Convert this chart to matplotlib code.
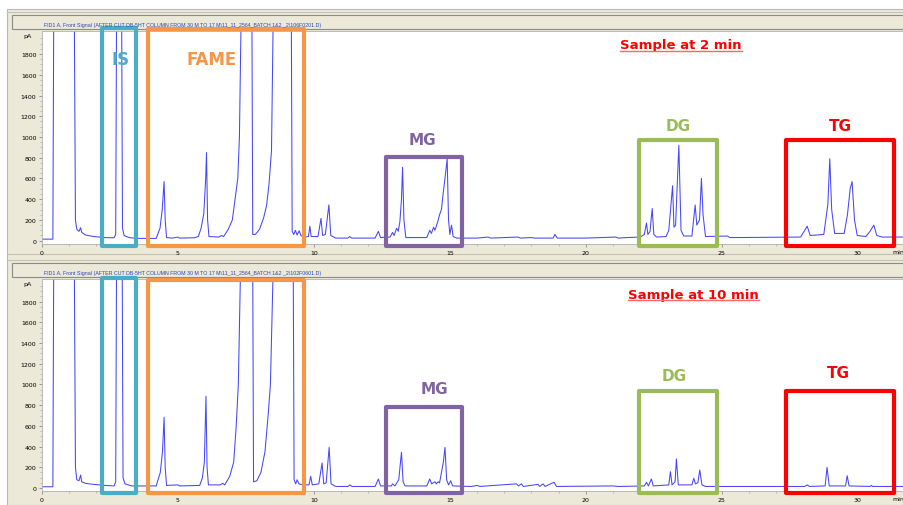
import matplotlib
matplotlib.use("Agg")
import matplotlib.pyplot as plt
from matplotlib.patches import Rectangle
from matplotlib.lines import Line2D

top_time = [0.00, 0.40, 0.43, 1.19, 1.23, 1.28, 1.36, 1.42, 1.46, 1.60, 1.90, 2.30, 2.65, 2.71, 2.74,
            2.93, 2.96, 3.02, 3.20, 3.50, 4.20, 4.34, 4.42, 4.49, 4.53, 4.58, 4.80, 5.00, 5.05, 5.60,
            5.75, 5.85, 5.95, 6.02, 6.05, 6.09, 6.14, 6.50, 6.60, 6.68, 6.85, 7.00, 7.10, 7.20, 7.26,
            7.32, 7.72, 7.75, 7.85, 8.00, 8.15, 8.26, 8.35, 8.44, 8.50, 9.17, 9.20, 9.26, 9.32, 9.38,
            9.46, 9.52, 9.65, 9.80, 9.85, 9.90, 10.15, 10.26, 10.32, 10.42, 10.55, 10.62, 10.80, 11.25, 11.32,
            11.38, 12.25, 12.37, 12.45, 12.80, 12.89, 12.95, 13.04, 13.10, 13.16, 13.22, 13.26, 13.31, 13.38, 14.15,
            14.26, 14.32, 14.40, 14.45, 14.55, 14.62, 14.69, 14.75, 14.82, 14.90, 14.95, 15.00, 15.06, 15.12, 15.25,
            16.00, 16.40, 16.50, 17.50, 17.60, 18.00, 18.10, 18.80, 18.86, 18.95, 20.00, 21.10, 21.20, 21.50, 22.00,
            22.15, 22.23, 22.28, 22.36, 22.44, 22.50, 22.60, 22.95, 23.05, 23.19, 23.24, 23.30, 23.42, 23.50, 23.60,
            23.90, 24.02, 24.08, 24.18, 24.25, 24.31, 24.40, 25.20, 25.30, 25.50, 27.90, 28.14, 28.25, 28.75, 28.90,
            28.97, 29.04, 29.15, 29.50, 29.62, 29.72, 29.79, 29.88, 29.98, 30.30, 30.45, 30.59, 30.70, 30.90, 31.70]
top_signal = [15, 15, 2100, 2100, 200, 110, 90, 125, 80, 55, 40, 30, 28, 60, 2100,
              2100, 120, 50, 30, 22, 22, 120, 300, 570, 200, 30, 25, 35, 25, 28,
              40, 120, 260, 600, 850, 200, 40, 35, 50, 40, 110, 200, 400, 600, 1000,
              2100, 2100, 60, 60, 110, 220, 340, 550, 870, 2100, 2100, 90, 60, 100, 55,
              95, 50, 35, 40, 140, 40, 40, 215, 50, 60, 345, 50, 25, 25, 40,
              25, 25, 90, 30, 35, 80, 50, 120, 90, 180, 400, 708, 200, 30, 30,
              100, 70, 130, 100, 180, 250, 300, 450, 600, 790, 200, 60, 150, 40, 25,
              25, 35, 25, 35, 25, 30, 25, 25, 60, 25, 25, 35, 25, 30, 35,
              60, 170, 60, 90, 310, 60, 35, 40, 100, 530, 130, 150, 920, 100, 45,
              45, 345, 150, 200, 600, 250, 40, 45, 30, 30, 35, 140, 50, 60, 350,
              790, 300, 70, 70, 250, 500, 570, 200, 50, 40, 90, 150, 50, 35, 35]

bottom_time = [0.00, 0.40, 0.43, 1.19, 1.23, 1.28, 1.36, 1.42, 1.46, 1.60, 1.90, 2.30, 2.65, 2.71, 2.74,
               2.95, 2.98, 3.05, 3.30, 4.20, 4.35, 4.43, 4.49, 4.53, 4.58, 5.00, 5.05, 5.80, 5.90, 5.97,
               6.03, 6.07, 6.12, 6.55, 6.65, 6.72, 6.90, 7.05, 7.14, 7.22, 7.30, 7.75, 7.78, 7.90, 8.05,
               8.20, 8.32, 8.40, 8.50, 9.24, 9.27, 9.33, 9.38, 9.45, 9.60, 9.82, 9.88, 9.94, 10.18, 10.30,
               10.36, 10.45, 10.56, 10.63, 10.80, 11.25, 11.32, 11.40, 12.25, 12.37, 12.45, 12.85, 12.89, 12.98, 13.12,
               13.22, 13.28, 13.35, 14.15, 14.26, 14.33, 14.45, 14.50, 14.57, 14.62, 14.69, 14.76, 14.82, 14.88, 14.95,
               15.03, 15.10, 15.80, 16.00, 16.10, 17.45, 17.52, 17.63, 17.70, 18.24, 18.30, 18.43, 18.50, 18.83, 18.92,
               21.00, 21.20, 22.15, 22.23, 22.30, 22.41, 22.48, 23.05, 23.11, 23.17, 23.28, 23.33, 23.40, 23.90, 23.97,
               24.03, 24.12, 24.19, 24.27, 24.40, 28.05, 28.14, 28.22, 28.80, 28.87, 28.95, 29.55, 29.61, 29.68, 30.45,
               30.50, 30.55, 31.70]
bottom_signal = [12, 12, 2100, 2100, 200, 80, 70, 125, 60, 45, 35, 25, 20, 60, 2100,
                 2100, 100, 40, 20, 20, 150, 350, 683, 200, 25, 30, 20, 25, 100, 250,
                 886, 200, 30, 30, 45, 30, 110, 250, 590, 1000, 2100, 2100, 60, 70, 150,
                 350, 715, 1000, 2100, 2100, 80, 40, 80, 40, 30, 30, 113, 30, 40, 242,
                 40, 50, 393, 40, 15, 15, 30, 15, 15, 87, 20, 20, 40, 20, 80,
                 345, 60, 20, 20, 87, 40, 60, 40, 60, 50, 150, 250, 393, 80, 30,
                 70, 20, 15, 25, 15, 40, 20, 40, 15, 35, 15, 40, 15, 55, 15,
                 20, 15, 20, 55, 20, 87, 20, 30, 158, 30, 60, 280, 30, 30, 94,
                 40, 50, 174, 30, 15, 15, 30, 15, 20, 200, 20, 20, 119, 20, 15,
                 25, 15, 15]

# --- highlighted regions (min) and their box heights (pA) ---
region_names = ["IS", "FAME", "MG", "DG", "TG"]
region_colors = ["#4BACC6", "#F79646", "#8064A2", "#9BBB59", "#FF0000"]
region_start = [2.20, 3.90, 12.64, 21.95, 27.35]
region_end = [3.46, 9.63, 15.43, 24.84, 31.33]
top_box_height = [2050, 2040, 810, 975, 975]
bottom_box_height = [2030, 2005, 785, 940, 940]

top_file = r"FID1 A, Front Signal (AFTER CUT DB-5HT COLUMN FROM 30 M TO 17 M\11_11_2564_BATCH 1&2 _2\106F0201.D)"
bottom_file = r"FID1 A, Front Signal (AFTER CUT DB-5HT COLUMN FROM 30 M TO 17 M\11_11_2564_BATCH 1&2 _2\102F0601.D)"

W, H = 904, 506
BEIGE = "#ECE9D8"


def fx(px):
    return px / W


def fy(py):
    return 1 - py / H


def chrome(fig):
    """draw the windows-ish frame around the two traces"""
    fig.patches.append(Rectangle((fx(7), 0), 1, fy(10), transform=fig.transFigure,
                                 facecolor=BEIGE, edgecolor="#B8B8B8", lw=0.8, zorder=-2))
    for top in (16, 264):
        fig.patches.append(Rectangle((fx(12), fy(top + 14)), 1, 14 / H, transform=fig.transFigure,
                                     facecolor=BEIGE, edgecolor="#8A8A8A", lw=0.8, zorder=-1))
    for py in (13, 255, 261):
        fig.lines.append(Line2D([fx(7), 1], [fy(py), fy(py)], transform=fig.transFigure,
                                color="#C4C2B6", lw=0.8, zorder=-1))


def draw_panel(fig, rect, t, s, ylo, yhi, box_h, labels, title, sample):
    ax = fig.add_axes(rect)
    ax.plot(t, s, color="#4646FA", lw=0.75)
    ax.set_xlim(0, 31.7)
    ax.set_ylim(ylo, yhi)
    ax.set_xticks(range(0, 31, 5))
    ax.set_xticks(range(0, 32), minor=True)
    ax.set_yticks(range(0, 1801, 200))
    ax.set_yticks(range(0, 1951, 50), minor=True)
    ax.tick_params(labelsize=4.5, length=2.5, width=0.5, color="#777777", pad=1.5)
    ax.tick_params(which="minor", length=1.5, width=0.4, color="#999999")
    for sp in ax.spines.values():
        sp.set_color("#B0B0B0")
        sp.set_linewidth(0.6)
    ax.text(-0.012, 1974, "pA", transform=ax.get_yaxis_transform(), ha="right", va="center",
            fontsize=4.5)
    ax.text(1.0, -0.025, "min", transform=ax.transAxes, ha="right", va="top",
            fontsize=4.5, clip_on=False)

    for i, name in enumerate(region_names):
        ax.add_patch(Rectangle((region_start[i], ylo - 15), region_end[i] - region_start[i],
                               box_h[i] - ylo + 15, fill=False, edgecolor=region_colors[i],
                               lw=3, joinstyle="round", clip_on=False, zorder=5))
    for name, x, y, size in labels:
        c = region_colors[region_names.index(name)]
        ax.text(x, y, name, color=c, fontsize=size, fontweight="bold", ha="center", va="center")

    fig.text(fx(44), rect[1] + rect[3] + 6.5 / H, title, fontsize=3.75, color="#2A45B0",
             family="Liberation Sans", va="center", ha="left")
    txt = ax.text(sample[1], sample[2], sample[0], color="#FF0000", fontsize=9.5,
                  fontweight="bold", ha="center", va="center")
    return ax, txt


def underline(fig, txt):
    fig.canvas.draw()
    bb = txt.get_window_extent().transformed(fig.transFigure.inverted())
    fig.lines.append(Line2D([bb.x0, bb.x1], [bb.y0 + 0.001, bb.y0 + 0.001],
                            transform=fig.transFigure, color="#FF6666", lw=1.0, zorder=10))


def main():
    fig = plt.figure(figsize=(W / 100, H / 100), dpi=100, facecolor="white")
    chrome(fig)

    top_labels = [("IS", 2.9, 1752, 12), ("FAME", 6.25, 1752, 12), ("MG", 14.0, 980, 11),
                  ("DG", 23.38, 1106, 11), ("TG", 29.37, 1106, 11)]
    bottom_labels = [("MG", 14.45, 957, 11), ("DG", 23.24, 1082, 11), ("TG", 29.3, 1111, 11)]

    _, t1 = draw_panel(fig, [fx(42), fy(245), fx(904) - fx(42), 213 / H], top_time, top_signal,
                       -32, 2022, top_box_height, top_labels, top_file,
                       ("Sample at 2 min", 23.5, 1887))
    _, t2 = draw_panel(fig, [fx(42), fy(492), fx(904) - fx(42), 212 / H], bottom_time, bottom_signal,
                       -29, 2019, bottom_box_height, bottom_labels, bottom_file,
                       ("Sample at 10 min", 23.97, 1874))
    underline(fig, t1)
    underline(fig, t2)

    fig.savefig("out.png", dpi=100, facecolor=fig.get_facecolor())


if __name__ == "__main__":
    main()
